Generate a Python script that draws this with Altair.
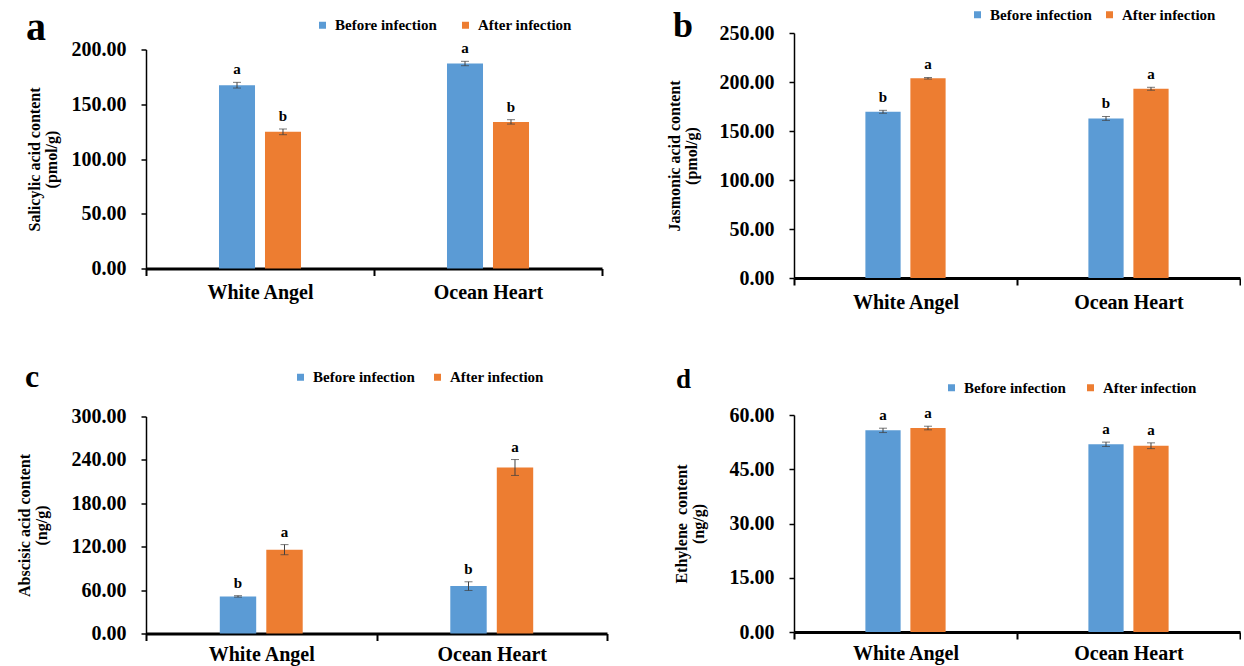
import altair as alt
import pandas as pd

SERIF = "Liberation Serif"
BLUE = "#5B9BD5"
ORANGE = "#ED7D31"
ERR = "#404040"

cultivars = ["White Angel", "Ocean Heart"]
conditions = ["Before infection", "After infection"]
# empty slots either side of the two bars inside each cultivar band
offset_slots = ["", conditions[0], conditions[1], " "]

# Panel a: salicylic acid (pmol/g)
sa_before = [167.4, 187.2]
sa_before_err = [2.6, 2.0]
sa_after = [124.8, 133.9]
sa_after_err = [2.6, 2.0]
sa_let_before = ["a", "a"]
sa_let_after = ["b", "b"]

# Panel b: jasmonic acid (pmol/g)
ja_before = [169.6, 162.8]
ja_before_err = [1.5, 2.0]
ja_after = [203.8, 193.1]
ja_after_err = [0.8, 1.5]
ja_let_before = ["b", "b"]
ja_let_after = ["a", "a"]

# Panel c: abscisic acid (ng/g)
aba_before = [51.3, 65.5]
aba_before_err = [1.0, 6.0]
aba_after = [115.9, 229.5]
aba_after_err = [7.0, 11.0]
aba_let_before = ["b", "b"]
aba_let_after = ["a", "a"]

# Panel d: ethylene (ng/g)
eth_before = [55.75, 51.9]
eth_before_err = [0.6, 0.6]
eth_after = [56.4, 51.5]
eth_after_err = [0.5, 0.8]
eth_let_before = ["a", "a"]
eth_let_after = ["a", "a"]


def build_df(before, before_err, after, after_err, let_b, let_a):
    rows = []
    for i, c in enumerate(cultivars):
        rows.append(dict(cultivar=c, condition=conditions[0], value=before[i],
                         err=before_err[i], letter=let_b[i]))
        rows.append(dict(cultivar=c, condition=conditions[1], value=after[i],
                         err=after_err[i], letter=let_a[i]))
    df = pd.DataFrame(rows)
    df["lo"] = df["value"] - df["err"]
    df["hi"] = df["value"] + df["err"]
    return df


def panel(df, letter, ymax, ystep, ytitle, w, h, leg_x, leg_y, leg_gap,
          letter_size, title_offset, title_dx, title_pad, xlab_pad,
          xtitle_pad=None):
    xaxis_kw = dict(labelAngle=0, labelFont=SERIF,
                    labelFontSize=20, labelFontWeight="bold",
                    labelColor="black", domainColor="black",
                    domainWidth=3, tickColor="black", tickWidth=2,
                    tickSize=7, tickBand="extent", labelPadding=xlab_pad)
    if xtitle_pad is None:
        xaxis_kw["title"] = None
    else:
        # blank title: reserves room below the axis without drawing anything
        xaxis_kw.update(title=" ", titleFontSize=8, titlePadding=xtitle_pad)
    x = alt.X("cultivar:N", sort=cultivars,
              scale=alt.Scale(paddingInner=0, paddingOuter=0),
              axis=alt.Axis(**xaxis_kw))
    xo = alt.XOffset("condition:N",
                     scale=alt.Scale(domain=offset_slots, paddingInner=0.217,
                                     paddingOuter=0.587))
    yscale = alt.Scale(domain=[0, ymax], nice=False)
    base = alt.Chart(df).encode(x=x, xOffset=xo)
    bars = base.mark_bar().encode(
        y=alt.Y("value:Q", scale=yscale,
                axis=alt.Axis(values=list(range(0, ymax + 1, ystep)),
                              format=".2f", grid=False, labelFont=SERIF,
                              labelFontSize=20, labelFontWeight="bold",
                              labelColor="black", domainColor="black",
                              domainWidth=1.5, tickColor="black",
                              tickWidth=1.5, tickSize=5, labelPadding=15,
                              title=ytitle, titleFont=SERIF, titleFontSize=16,
                              titleFontWeight="bold", titleColor="black",
                              titleLineHeight=17, titlePadding=title_pad)),
        color=alt.Color("condition:N",
                        scale=alt.Scale(domain=conditions, range=[BLUE, ORANGE]),
                        legend=alt.Legend(title=None, orient="none",
                                          legendX=leg_x, legendY=leg_y,
                                          direction="horizontal",
                                          symbolType="square", symbolSize=49,
                                          symbolStrokeWidth=0,
                                          labelFont=SERIF, labelFontSize=15,
                                          labelFontWeight="bold",
                                          labelColor="black", labelOffset=5,
                                          columnPadding=leg_gap,
                                          labelLimit=300)),
    )
    rule = base.mark_rule(color=ERR, strokeWidth=1).encode(
        y=alt.Y("lo:Q", scale=yscale), y2="hi:Q")
    cap_hi = base.mark_tick(color=ERR, thickness=1, size=8).encode(
        y=alt.Y("hi:Q", scale=yscale))
    cap_lo = base.mark_tick(color=ERR, thickness=1, size=8).encode(
        y=alt.Y("lo:Q", scale=yscale))
    text = base.mark_text(font=SERIF, fontSize=15, fontWeight="bold",
                          baseline="alphabetic", dy=-8, color="black").encode(
        y=alt.Y("hi:Q", scale=yscale), text="letter:N")
    return alt.layer(bars, rule, cap_hi, cap_lo, text).properties(
        width=w, height=h,
        title=alt.TitleParams(letter, anchor="start", font=SERIF,
                              fontSize=letter_size, fontWeight="bold",
                              baseline="alphabetic", color="black",
                              offset=title_offset, dx=title_dx))


pa = panel(build_df(sa_before, sa_before_err, sa_after, sa_after_err,
                    sa_let_before, sa_let_after),
           "a", 200, 50, ["Salicylic acid content", "(pmol/g)"],
           456, 219, 169, -32, 21, 40, -62, 0, 12, 7)
pb = panel(build_df(ja_before, ja_before_err, ja_after, ja_after_err,
                    ja_let_before, ja_let_after),
           "b", 250, 50, ["Jasmonic acid content", "(pmol/g)"],
           446, 245, 176, -26, 10, 36, -66, 7, 20, 7)
pc = panel(build_df(aba_before, aba_before_err, aba_after, aba_after_err,
                    aba_let_before, aba_let_after),
           "c", 300, 60, ["Abscisic acid content", "(ng/g)"],
           461, 217, 147, -47, 15, 32, -49, 9, 22, 4)
pd_ = panel(build_df(eth_before, eth_before_err, eth_after, eth_after_err,
                     eth_let_before, eth_let_after),
            "d", 60, 15, ["Ethylene\u00a0 content", "(ng/g)"],
            446, 217, 150, -35, 17, 27, -35, 3, 23, 4, xtitle_pad=10)

res = dict(x="independent", y="independent", color="independent",
           xOffset="independent")
col1 = alt.vconcat(pa, pc, spacing=58).resolve_scale(**res)
col2 = alt.vconcat(pb, pd_, spacing=54).resolve_scale(**res)
chart = alt.hconcat(col1, col2, spacing=58, center=True).resolve_scale(
    **res).properties(
    padding={"left": 16, "top": 7, "right": 0, "bottom": 0},
    background="white",
).configure_view(stroke=None)

chart.save("out.html", embed_options={"renderer": "svg", "actions": False})
